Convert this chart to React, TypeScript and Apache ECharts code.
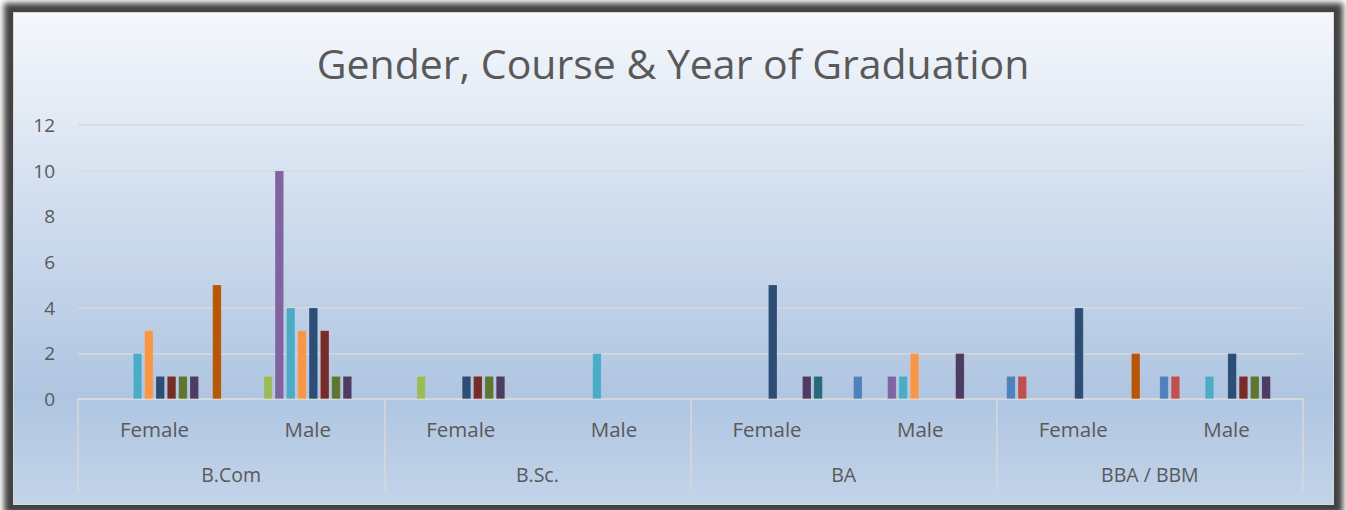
import React, { useEffect, useRef } from "react";
import * as echarts from "echarts";

const genders = ["Female", "Male", "Female", "Male", "Female", "Male", "Female", "Male"];
const courses = ["B.Com", "B.Sc.", "BA", "BBA / BBM"];
const yTicks = [0, 2, 4, 6, 8, 10, 12];

const seriesNames = [
  "Year 1", "Year 2", "Year 3", "Year 4", "Year 5", "Year 6",
  "Year 7", "Year 8", "Year 9", "Year 10", "Year 11", "Year 12",
];
const s1 = [0, 0, 0, 0, 0, 1, 1, 1];
const s2 = [0, 0, 0, 0, 0, 0, 1, 1];
const s3 = [0, 1, 1, 0, 0, 0, 0, 0];
const s4 = [0, 10, 0, 0, 0, 1, 0, 0];
const s5 = [2, 4, 0, 2, 0, 1, 0, 1];
const s6 = [3, 3, 0, 0, 0, 2, 0, 0];
const s7 = [1, 4, 1, 0, 5, 0, 4, 2];
const s8 = [1, 3, 1, 0, 0, 0, 0, 1];
const s9 = [1, 1, 1, 0, 0, 0, 0, 1];
const s10 = [1, 1, 1, 0, 1, 2, 0, 1];
const s11 = [0, 0, 0, 0, 1, 0, 0, 0];
const s12 = [5, 0, 0, 0, 0, 0, 2, 0];
const seriesValues = [s1, s2, s3, s4, s5, s6, s7, s8, s9, s10, s11, s12];
const seriesColors = [
  "#4F81BD", "#C0504D", "#9BBB59", "#8064A2", "#4BACC6", "#F79646",
  "#2C4D75", "#772C2A", "#5F7530", "#4D3B62", "#276A7C", "#B65708",
];

const FONT = "'Open Sans', 'Noto Sans', sans-serif";

export default function App() {
  const ref = useRef<HTMLDivElement>(null);
  useEffect(() => {
    document.body.style.margin = "0";
    if (!ref.current) return;
    const chart = echarts.init(ref.current, undefined, { renderer: "svg" });
    chart.setOption({
      animation: false,
      backgroundColor: "transparent",
      title: {
        text: "Gender, Course & Year of Graduation",
        left: "center",
        top: 37,
        textStyle: { fontFamily: FONT, fontSize: 41, fontWeight: "normal", color: "#595959" },
      },
      grid: { left: 78, right: 43, top: 125, bottom: 111, containLabel: false },
      xAxis: [
        {
          type: "category",
          data: genders,
          position: "bottom",
          axisLine: { show: true, lineStyle: { color: "#D9D9D9", width: 1.5 } },
          axisTick: { show: false },
          axisLabel: { margin: 19, fontFamily: FONT, fontSize: 20.5, color: "#595959", interval: 0 },
        },
        {
          type: "category",
          data: courses,
          position: "bottom",
          axisLine: { show: false },
          axisTick: { show: true, length: 92, interval: 0, lineStyle: { color: "#D9D9D9", width: 1.5 } },
          axisLabel: { margin: 65, fontFamily: FONT, fontSize: 19.5, color: "#595959", interval: 0 },
        },
      ],
      yAxis: {
        type: "value",
        min: yTicks[0],
        max: yTicks[yTicks.length - 1],
        interval: 2,
        axisLine: { show: false },
        axisTick: { show: false },
        axisLabel: { margin: 23, fontFamily: FONT, fontSize: 19, color: "#595959" },
        splitLine: { lineStyle: { color: "#D9D9D9", width: 1.5 } },
      },
      series: seriesValues.map((vals, i) => ({
        name: seriesNames[i],
        type: "bar",
        xAxisIndex: 0,
        barWidth: 9,
        barGap: "26%",
        itemStyle: { color: seriesColors[i], borderColor: "rgba(255,255,255,0.25)", borderWidth: 0.5 },
        data: vals.map((v) => (v === 0 ? null : v)),
      })),
    });
    return () => chart.dispose();
  }, []);

  return (
    <div style={{ position: "relative", width: 1346, height: 510, background: "#ffffff", overflow: "hidden" }}>
      <div
        style={{
          position: "absolute",
          left: 13,
          top: 12,
          width: 1321,
          height: 493,
          boxSizing: "border-box",
          border: "1.5px solid #D9D9D9",
          background: "linear-gradient(to bottom, #F5F8FC 0%, #D0DDEE 40%, #AFC5E1 78%, #C3D4E9 100%)",
          boxShadow: "0 0 6px 9px #424242",
        }}
      />
      <div ref={ref} style={{ position: "absolute", left: 0, top: 0, width: 1346, height: 510 }} />
    </div>
  );
}
